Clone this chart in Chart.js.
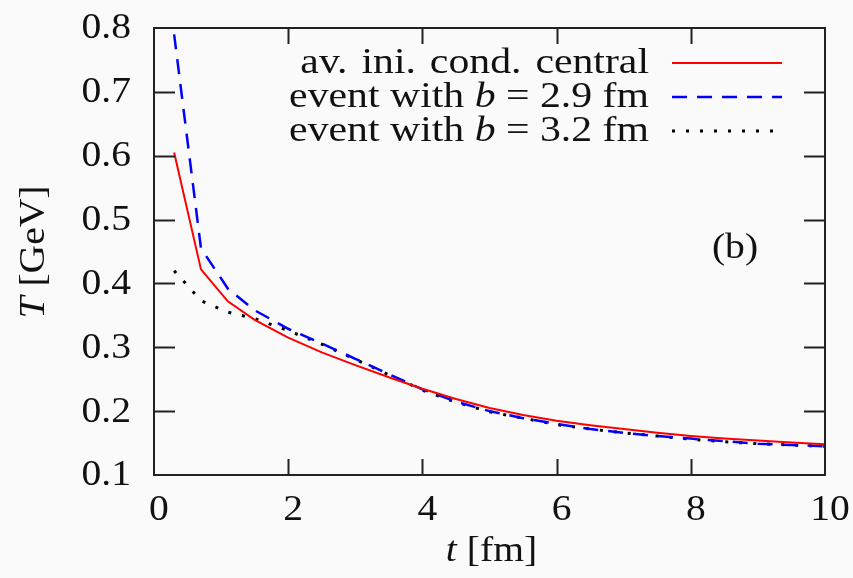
<!DOCTYPE html>
<html>
<head>
<meta charset="utf-8">
<script src="https://cdn.jsdelivr.net/npm/chart.js@4/dist/chart.umd.min.js"></script>
<style>
    html, body { margin: 0; padding: 0; background: #fafafa; }
    canvas { display: block; }
</style>
</head>
<body>
<canvas id="chart" width="853" height="578"></canvas>
<script>
// ---------- Data ----------
const tValues = [0.3, 0.7, 1.1, 1.5, 2, 2.5, 3, 3.5, 4, 4.5, 5, 5.5, 6, 6.5, 7, 7.5, 8, 8.5, 9, 9.5, 10];
const tempCentral = [0.605, 0.422, 0.372, 0.343, 0.315, 0.292, 0.272, 0.253, 0.235, 0.219, 0.205, 0.194, 0.185, 0.178, 0.172, 0.166, 0.161, 0.157, 0.154, 0.151, 0.148];
const tempB29 = [0.79, 0.455, 0.392, 0.358, 0.329, 0.306, 0.282, 0.258, 0.234, 0.215, 0.200, 0.189, 0.180, 0.172, 0.166, 0.161, 0.157, 0.153, 0.149, 0.147, 0.145];
const tempB32 = [0.42, 0.373, 0.355, 0.345, 0.326, 0.305, 0.281, 0.257, 0.233, 0.214, 0.199, 0.189, 0.179, 0.172, 0.166, 0.161, 0.156, 0.152, 0.149, 0.147, 0.145];

const xTicks = [0, 2, 4, 6, 8, 10];
const yTicks = [0.1, 0.2, 0.3, 0.4, 0.5, 0.6, 0.7, 0.8];

const seriesLabels = [
    [{ text: "av.\u200A ini.\u200A cond.\u200A central" }],
    [{ text: "event with " }, { text: "b", italic: true }, { text: " = 2.9 fm" }],
    [{ text: "event with " }, { text: "b", italic: true }, { text: " = 3.2 fm" }]
];
const panelLabel = "(b)";

// ---------- Text helpers ----------
const FONT = "Liberation Serif";
const INK = "#111";

function setFont(ctx, size, italic) {
    ctx.font = (italic ? "italic " : "") + size + "px \"" + FONT + "\"";
}

function partsWidth(ctx, parts, size) {
    let w = 0;
    parts.forEach(p => {
        setFont(ctx, size, p.italic);
        w += ctx.measureText(p.text).width;
    });
    return w;
}

// draws mixed roman/italic text, stretch widens it a bit like the TeX font
function drawParts(ctx, parts, x, y, align, size, stretch) {
    stretch = stretch || 1;
    const w = partsWidth(ctx, parts, size) * stretch;
    const start = align === "right" ? x - w : align === "center" ? x - w / 2 : x;
    ctx.save();
    ctx.translate(start, y);
    ctx.scale(stretch, 1);
    ctx.textAlign = "left";
    ctx.textBaseline = "middle";
    ctx.fillStyle = INK;
    let cx = 0;
    parts.forEach(p => {
        setFont(ctx, size, p.italic);
        ctx.fillText(p.text, cx, 0);
        cx += ctx.measureText(p.text).width;
    });
    ctx.restore();
}

// ---------- Plugins ----------
const frameTicks = {
    id: "frameTicks",
    afterDatasetsDraw(chart) {
        const { ctx, chartArea: a, scales } = chart;
        ctx.save();
        ctx.strokeStyle = "#222";
        ctx.lineWidth = 2;
        ctx.beginPath();
        xTicks.forEach(v => {
            const px = Math.round(scales.x.getPixelForValue(v)) + 0.5;
            if (v === 0 || v === 10) return;
            ctx.moveTo(px, a.bottom); ctx.lineTo(px, a.bottom - 16);
            ctx.moveTo(px, a.top); ctx.lineTo(px, a.top + 16);
        });
        yTicks.forEach(v => {
            const py = Math.round(scales.y.getPixelForValue(v)) + 0.5;
            if (v === 0.1 || v === 0.8) return;
            ctx.moveTo(a.left, py); ctx.lineTo(a.left + 21, py);
            ctx.moveTo(a.right, py); ctx.lineTo(a.right - 21, py);
        });
        ctx.stroke();
        ctx.strokeRect(a.left, a.top, a.right - a.left, a.bottom - a.top);
        ctx.restore();

        // tick labels
        yTicks.forEach(v => {
            drawParts(ctx, [{ text: v.toFixed(1) }], 131, scales.y.getPixelForValue(v) + 1, "right", 36, 1.1);
        });
        xTicks.forEach(v => {
            drawParts(ctx, [{ text: String(v) }], scales.x.getPixelForValue(v) + 5, 511, "center", 36, 1.1);
        });

        // axis titles
        drawParts(ctx, [{ text: "t", italic: true }, { text: " [fm]" }], (a.left + a.right) / 2 + 2, 552, "center", 36, 1.1);
        ctx.save();
        ctx.translate(35, 252);
        ctx.rotate(-Math.PI / 2);
        drawParts(ctx, [{ text: "T", italic: true }, { text: " [GeV]" }], 0, 0, "center", 36, 1.1);
        ctx.restore();

        // panel label
        drawParts(ctx, [{ text: panelLabel }], 735, 249, "center", 36, 1.1);

        // legend: text right aligned, sample line on the right
        const rows = [63, 97, 131];
        chart.data.datasets.forEach((ds, i) => {
            drawParts(ctx, seriesLabels[i], 649, rows[i] + 1, "right", 36, 1.16);
            ctx.save();
            ctx.strokeStyle = ds.borderColor;
            ctx.lineWidth = ds.borderWidth;
            ctx.setLineDash(ds.borderDash || []);
            ctx.beginPath();
            ctx.moveTo(672, rows[i]);
            ctx.lineTo(782, rows[i]);
            ctx.stroke();
            ctx.restore();
        });
    }
};

// ---------- Chart ----------
const toPoints = ys => ys.map((y, i) => ({ x: tValues[i], y }));

new Chart(document.getElementById("chart"), {
    type: "line",
    data: {
        datasets: [
            {
                label: "av. ini. cond. central",
                data: toPoints(tempCentral),
                borderColor: "#ff0000",
                borderWidth: 2,
                pointRadius: 0,
                tension: 0
            },
            {
                label: "event with b = 2.9 fm",
                data: toPoints(tempB29),
                borderColor: "#0000ff",
                borderWidth: 2.5,
                borderDash: [15, 10],
                pointRadius: 0,
                tension: 0
            },
            {
                label: "event with b = 3.2 fm",
                data: toPoints(tempB32),
                borderColor: "#000000",
                borderWidth: 3,
                borderDash: [3, 11],
                pointRadius: 0,
                tension: 0
            }
        ]
    },
    options: {
        responsive: false,
        animation: false,
        events: [],
        layout: { padding: { top: 28, right: 28, left: 0, bottom: 0 } },
        plugins: {
            legend: { display: false },
            tooltip: { enabled: false }
        },
        scales: {
            x: {
                type: "linear",
                min: 0,
                max: 10,
                grid: { display: false },
                border: { display: false },
                ticks: { display: false },
                afterBuildTicks: s => { s.ticks = xTicks.map(v => ({ value: v })); },
                afterFit: s => { s.height = 103; }
            },
            y: {
                min: 0.1,
                max: 0.8,
                grid: { display: false },
                border: { display: false },
                ticks: { display: false },
                afterBuildTicks: s => { s.ticks = yTicks.map(v => ({ value: v })); },
                afterFit: s => { s.width = 154; }
            }
        }
    },
    plugins: [frameTicks]
});
</script>
</body>
</html>
